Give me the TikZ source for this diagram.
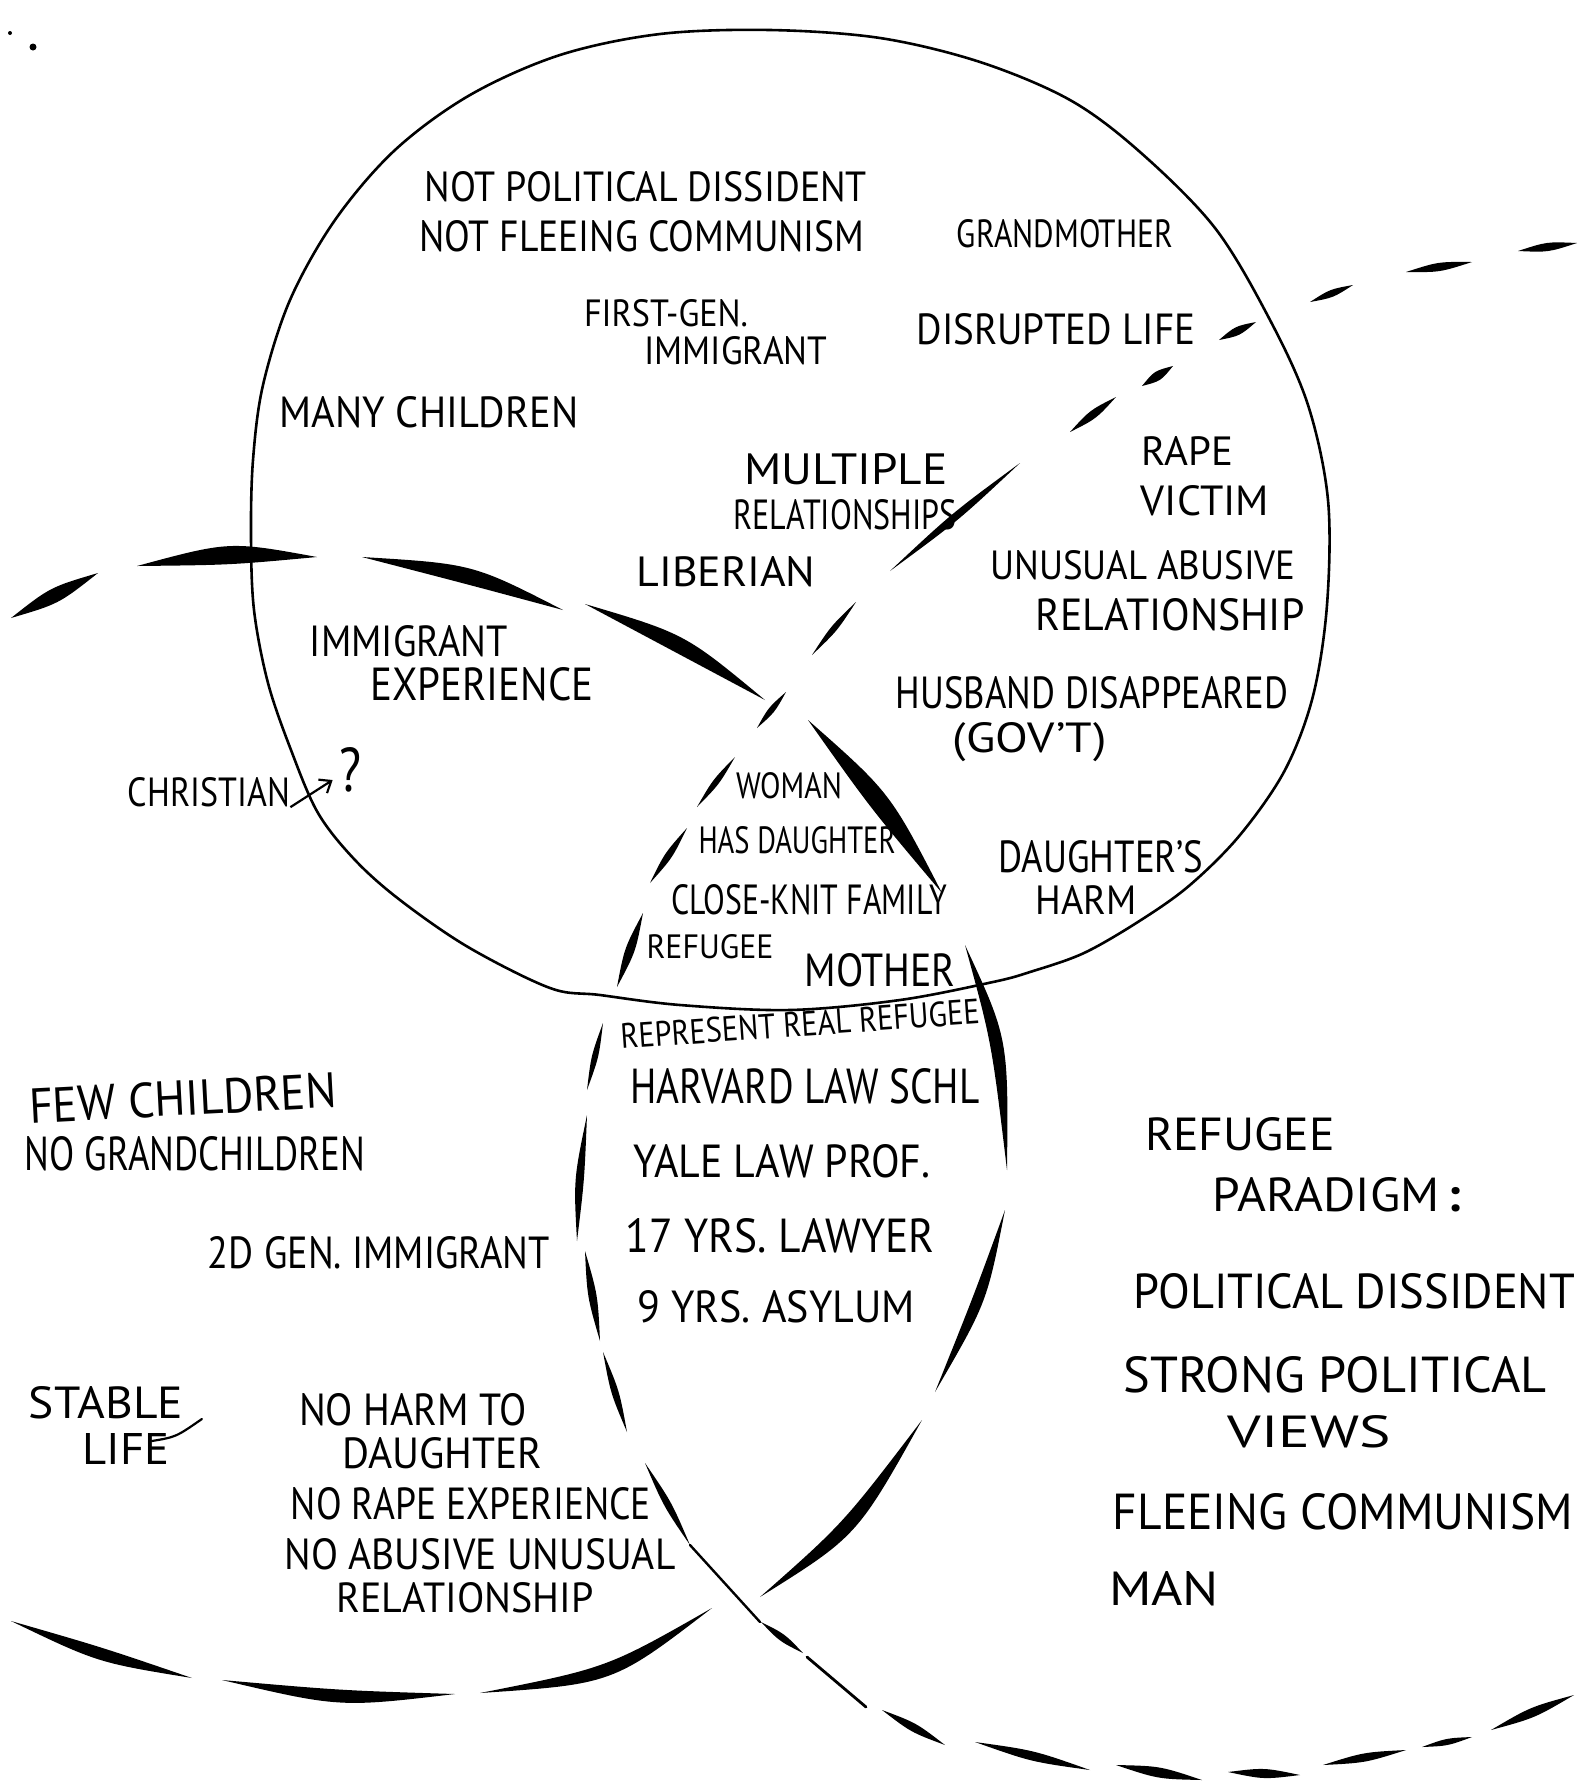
\documentclass[tikz,border=0pt]{standalone}
\usepackage{fontspec}
\setmainfont{PT Sans}
\usepackage{graphicx}
\usetikzlibrary{calc,arrows.meta}
\newdimen\pxu \pxu=0.5pt
\newcommand\hw[3]{\resizebox{#1\pxu}{#2\pxu}{#3}}
% curved brush stroke: start, control, end, offset
\newcommand\brush[4]{%
  \coordinate (bA) at #1;
  \coordinate (bC) at #2;
  \coordinate (bB) at #3;
  \coordinate (bO) at ($(bA)!#4!90:(bB)$);
  \fill[black] (bA) .. controls ($(bC)+(bO)-(bA)$) .. (bB)
     .. controls ($(bC)-(bO)+(bA)$) .. (bA) -- cycle;
}
% straight brush stroke: start, end, offset
\newcommand\sbrush[3]{%
  \coordinate (bA) at #1;
  \coordinate (bB) at #2;
  \coordinate (bC) at ($(bA)!0.5!(bB)$);
  \coordinate (bO) at ($(bA)!#3!90:(bB)$);
  \fill[black] (bA) .. controls ($(bC)+(bO)-(bA)$) .. (bB)
     .. controls ($(bC)-(bO)+(bA)$) .. (bA) -- cycle;
}
\tikzset{hand/.style={inner sep=0pt, anchor=center, text=black}}
\begin{document}
\begin{tikzpicture}[x=0.5pt,y=-0.5pt]
\useasboundingbox (0,0) rectangle (1582,1790);
\fill[white] (0,0) rectangle (1582,1790);

% specks
\fill (10,33) circle (2);
\fill (33,47) circle (3.5);

% solid circle
\draw[line width=1.3pt, line join=round] plot[smooth cycle, tension=0.55] coordinates {
(770,30) (880,38) (980,62) (1070,100) (1140,152) (1215,228) (1270,320) (1308,405)
(1328,500) (1327,605) (1313,696) (1285,770) (1240,835) (1190,885) (1141,920)
(1084,953) (1030,972) (993,982) (900,1000) (790,1010) (680,1005)
(600,995) (550,988) (468,947) (400,900) (355,860) (318,813) (291,750) (268,683)
(254,610) (251,536) (253,460) (263,385) (290,300) (335,220) (395,150) (470,95)
(560,55) (660,34)};

% left dashed circle (heavy strokes)
\sbrush{(11,618)}{(98,573)}{4.7pt}
\brush{(137,566)}{(230,553)}{(317,557)}{6pt}
\brush{(362,557)}{(470,574)}{(563,610)}{5.3pt}
\brush{(585,604)}{(680,643)}{(765,700)}{5.3pt}
\brush{(808,720)}{(880,800)}{(942,893)}{6.3pt}
\brush{(965,945)}{(1000,1040)}{(1007,1170)}{4.3pt}
\brush{(1005,1210)}{(980,1300)}{(935,1392)}{3.7pt}
\brush{(922,1420)}{(850,1530)}{(760,1597)}{4.7pt}
\brush{(712,1608)}{(610,1676)}{(480,1693)}{4.3pt}
\brush{(455,1694)}{(340,1699)}{(222,1680)}{4.3pt}
\brush{(192,1678)}{(100,1655)}{(11,1621)}{4pt}

% right dashed circle
\sbrush{(1577,243)}{(1518,251)}{2.7pt}
\sbrush{(1472,262)}{(1406,272)}{2.7pt}
\sbrush{(1353,285)}{(1310,302)}{2.3pt}
\sbrush{(1256,322)}{(1219,340)}{2.7pt}
\sbrush{(1173,366)}{(1142,386)}{3pt}
\sbrush{(1116,397)}{(1070,432)}{2.7pt}
\sbrush{(1020,463)}{(890,571)}{2.5pt}
\sbrush{(856,602)}{(812,655)}{2pt}
\sbrush{(786,692)}{(757,728)}{2pt}
\sbrush{(735,757)}{(697,807)}{2pt}
\sbrush{(687,828)}{(650,883)}{2.3pt}
\sbrush{(643,913)}{(617,987)}{3pt}
\sbrush{(603,1023)}{(587,1090)}{2pt}
\brush{(587,1115)}{(579,1180)}{(577,1241)}{2.7pt}
\sbrush{(585,1251)}{(600,1341)}{2.7pt}
\sbrush{(603,1352)}{(627,1432)}{2.3pt}
\sbrush{(645,1463)}{(690,1545)}{2.3pt}
\draw[line width=1.2pt, line cap=round] (690,1545) -- (760,1622);
\sbrush{(761,1622)}{(803,1653)}{2.3pt}
\draw[line width=1.4pt, line cap=round] (807,1657) -- (866,1707);
\sbrush{(882,1710)}{(945,1745)}{2.7pt}
\sbrush{(975,1742)}{(1090,1770)}{3pt}
\sbrush{(1116,1765)}{(1202,1780)}{3.3pt}
\sbrush{(1228,1772)}{(1300,1775)}{3pt}
\sbrush{(1323,1765)}{(1406,1750)}{2.7pt}
\sbrush{(1422,1747)}{(1472,1737)}{2pt}
\sbrush{(1491,1730)}{(1574,1695)}{3pt}

% texts inside solid circle
\node[hand] (n1) at (646,187) {\hw{442}{30}{NOT POLITICAL DISSIDENT}};
\node[hand] (n2) at (642,236) {\hw{445}{31}{NOT FLEEING COMMUNISM}};
\node[hand] (n3) at (1065,234) {\hw{216}{28}{GRANDMOTHER}};
\node[hand] (n4) at (666,313) {\hw{164}{27}{FIRST-GEN.}};
\node[hand] (n5) at (736,351) {\hw{183}{28}{IMMIGRANT}};
\node[hand] (n6) at (1056,329) {\hw{279}{31}{DISRUPTED LIFE}};
\node[hand] (n7) at (429,412) {\hw{299}{31}{MANY CHILDREN}};
\node[hand] (n8) at (846,469) {\hw{203}{31}{MULTIPLE}};
\node[hand] (n9) at (845,515) {\hw{223}{30}{RELATIONSHIPS}};
\node[hand] (n10) at (1187,451) {\hw{92}{29}{RAPE}};
\node[hand] (n11) at (1205,501) {\hw{128}{30}{VICTIM}};
\node[hand] (n12) at (726,572) {\hw{179}{30}{LIBERIAN}};
\node[hand] (n13) at (1143,565) {\hw{305}{29}{UNUSUAL ABUSIVE}};
\node[hand] (n14) at (1170,615) {\hw{269}{32}{RELATIONSHIP}};
\node[hand] (n15) at (409,641) {\hw{198}{31}{IMMIGRANT}};
\node[hand] (n16) at (482,684) {\hw{223}{33}{EXPERIENCE}};
\node[hand] (n17) at (1092,693) {\hw{392}{32}{HUSBAND DISAPPEARED}};
\node[hand] (n18) at (1030,742) {\hw{154}{30}{(GOV'T)}};
\node[hand] (n19) at (209,792) {\hw{162}{29}{CHRISTIAN}};
\node[hand] (n20) at (350,770) {\hw{22}{44}{?}};
\draw[line width=1.1pt, -{Straight Barb[length=5pt,width=8pt]}]
  (n19.south east) -- ($(n20.west)+(-6,10)$);
\node[hand] (n21) at (789,786) {\hw{106}{26}{WOMAN}};
\node[hand] (n22) at (797,840) {\hw{197}{27}{HAS DAUGHTER}};
\node[hand] (n23) at (809,900) {\hw{276}{30}{CLOSE-KNIT FAMILY}};
\node[hand] (n24) at (710,947) {\hw{127}{24}{REFUGEE}};
\node[hand] (n25) at (880,970) {\hw{151}{33}{MOTHER}};
\node[hand] (n26) at (1101,857) {\hw{205}{32}{DAUGHTER'S}};
\node[hand] (n27) at (1086,900) {\hw{101}{29}{HARM}};

% centre-bottom lens
\node[hand, rotate=4] (n28) at (800,1024) {\hw{360}{25}{REPRESENT REAL REFUGEE}};
\node[hand] (n29) at (805,1086) {\hw{349}{35}{HARVARD LAW SCHL}};
\node[hand] (n30) at (782,1161) {\hw{297}{33}{YALE LAW PROF.}};
\node[hand] (n31) at (780,1236) {\hw{309}{34}{17 YRS. LAWYER}};
\node[hand] (n32) at (776,1307) {\hw{278}{32}{9 YRS. ASYLUM}};

% left region
\node[hand, rotate=3] (n33) at (183,1098) {\hw{308}{35}{FEW CHILDREN}};
\node[hand] (n34) at (195,1154) {\hw{340}{34}{NO GRANDCHILDREN}};
\node[hand] (n35) at (379,1253) {\hw{342}{32}{2D GEN. IMMIGRANT}};
\node[hand] (n36) at (106,1403) {\hw{154}{32}{STABLE}};
\node[hand] (n37) at (126,1449) {\hw{87}{31}{LIFE}};
\draw[line width=1.1pt, line cap=round] (n37.east) ++(-18,-8) .. controls +(24,-4) .. ++(50,-22);
\node[hand] (n38) at (413,1410) {\hw{228}{32}{NO HARM TO}};
\node[hand] (n39) at (442,1453) {\hw{200}{31}{DAUGHTER}};
\node[hand] (n40) at (471,1504) {\hw{360}{32}{NO RAPE EXPERIENCE}};
\node[hand] (n41) at (480,1554) {\hw{391}{31}{NO ABUSIVE UNUSUAL}};
\node[hand] (n42) at (465,1598) {\hw{257}{30}{RELATIONSHIP}};

% right region
\node[hand] (n43) at (1240,1134) {\hw{190}{33}{REFUGEE}};
\node[hand] (n44) at (1337,1195) {\hw{248}{34}{PARADIGM\,\textbf{:}}};
\node[hand] (n45) at (1354,1291) {\hw{442}{35}{POLITICAL DISSIDENT}};
\node[hand] (n46) at (1335,1375) {\hw{423}{36}{STRONG POLITICAL}};
\node[hand] (n47) at (1309,1432) {\hw{163}{32}{VIEWS}};
\node[hand] (n48) at (1343,1512) {\hw{460}{36}{FLEEING COMMUNISM}};
\node[hand] (n49) at (1164,1589) {\hw{110}{34}{MAN}};
\end{tikzpicture}
\end{document}
